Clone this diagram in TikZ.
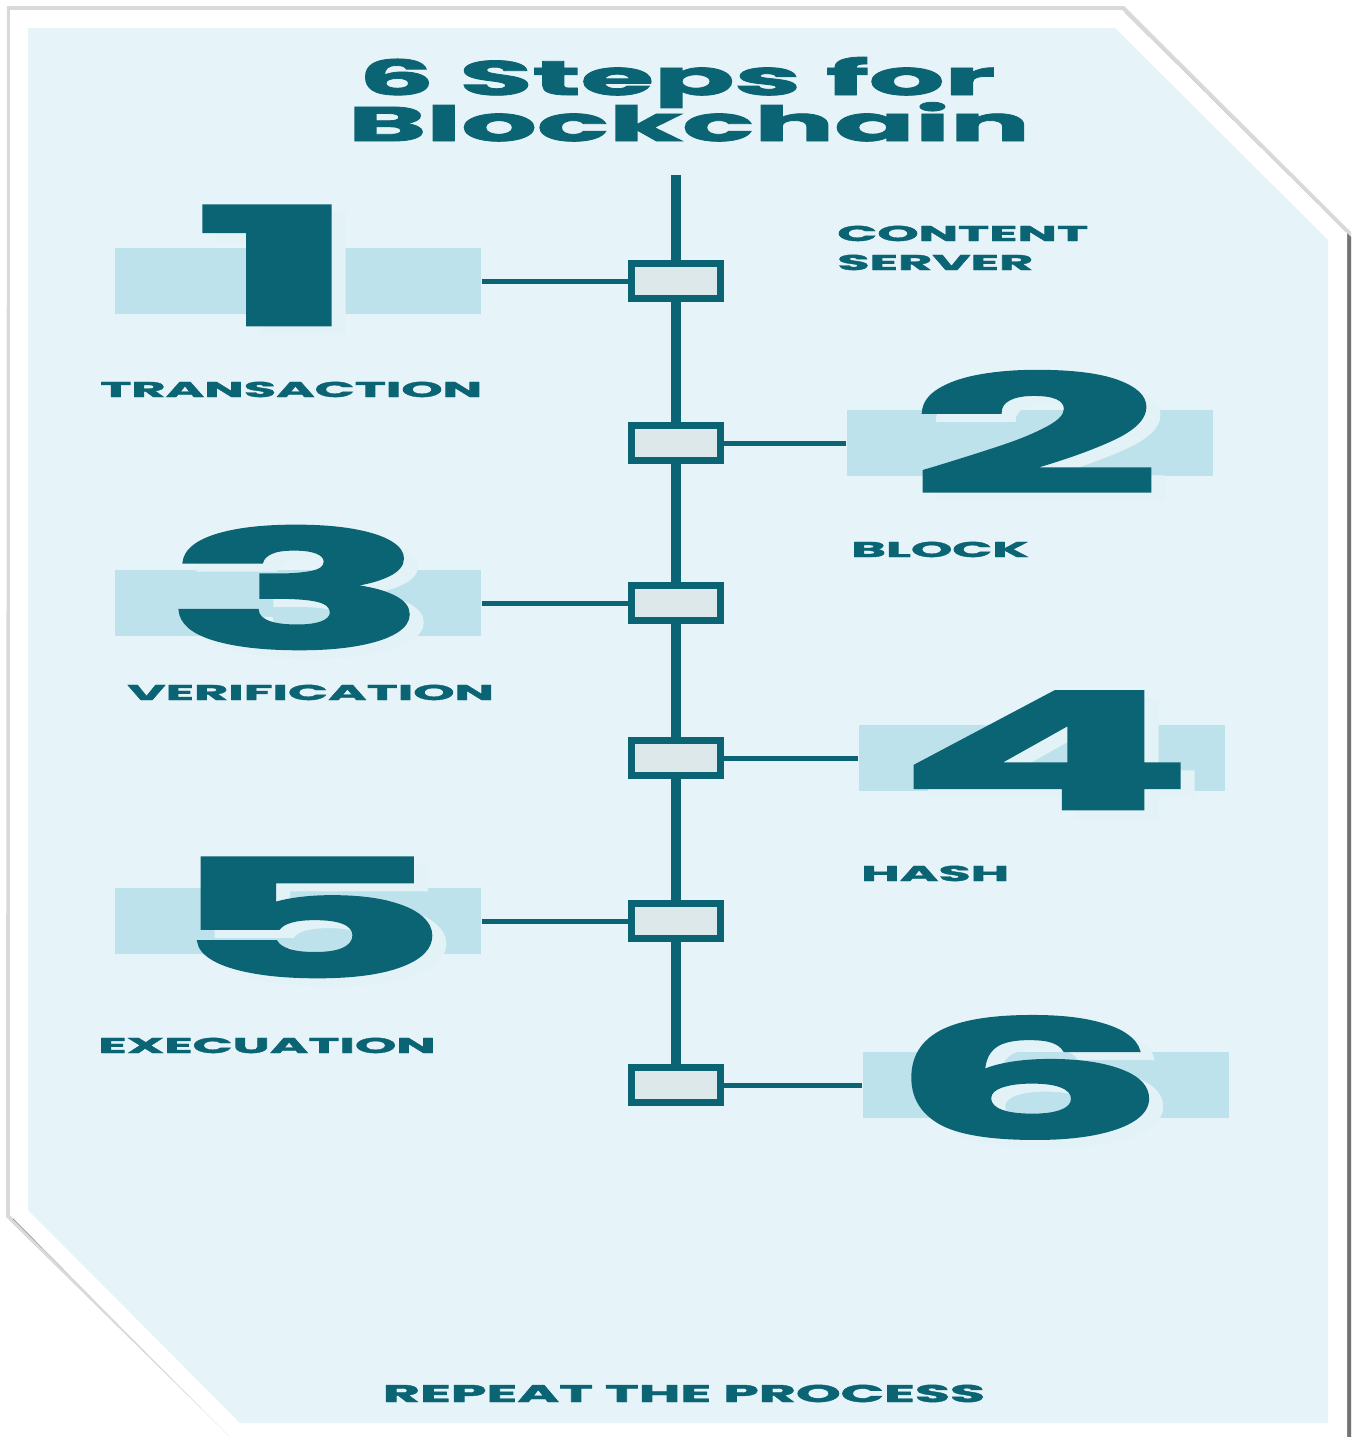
\documentclass[tikz,border=0pt]{standalone}
\usepackage{fontspec}
\setmainfont{Poppins}[BoldFeatures={FakeBold=1.6}]
\usepackage{xcolor}
\usepackage{graphicx}
\usepackage{tikz}

\definecolor{stepteal}{HTML}{0B6473}
\definecolor{pageblue}{HTML}{E6F4F9}
\definecolor{bandblue}{HTML}{BDE2EB}
\definecolor{boxfill}{HTML}{DCE8EA}
\definecolor{ghostblue}{HTML}{E2F2F6}

% big number with a pale copy set a little to the lower right
\newcommand{\ghostdigit}[1]{\scalebox{2.7}[1]{\rlap{\hspace{0.104cm}\raisebox{-0.16cm}{\color{ghostblue}#1}}#1}}

\tikzset{
  band/.style={fill=bandblue, minimum width=7.34cm, minimum height=1.32cm, inner sep=0pt},
  chainbox/.style={draw=stepteal, fill=boxfill, line width=0.14cm, minimum width=1.78cm, minimum height=0.7cm, inner sep=0pt},
  digit/.style={text=stepteal, font=\bfseries\fontsize{93}{93}\selectfont, inner sep=0pt, anchor=base},
  steplabel/.style={text=stepteal, font=\bfseries\fontsize{12.2}{14}\selectfont, inner sep=0pt, anchor=base west},
  titletext/.style={text=stepteal, font=\bfseries\fontsize{27.6}{30}\selectfont, inner sep=0pt, anchor=base},
  link/.style={stepteal, line width=0.1cm},
  spine/.style={stepteal, line width=0.2cm},
}

\begin{document}
\begin{tikzpicture}[x=0.02cm, y=-0.02cm]
    \useasboundingbox (0,0) rectangle (1358,1437);
    \fill[white] (0,0) rectangle (1358,1437);

    % Frame with cut corners
    \fill[gray!30] (7,6) -- (1124,6) -- (1351,232) -- (1351,1437) -- (230,1437) -- (6,1217) -- cycle;
    \fill[black!55] (13,13) -- (1125,13) -- (1351,237) -- (1351,1437) -- (233,1437) -- (13,1219) -- cycle;
    \fill[white] (10,10) -- (1122,10) -- (1347,233) -- (1347,1437) -- (230,1437) -- (10,1215) -- cycle;
    \fill[pageblue] (28,28) -- (1115,28) -- (1328,240) -- (1328,1423) -- (240,1423) -- (28,1210) -- cycle;

    % Title
    \node[titletext] (title1) at (677,95) {\scalebox{2.45}[1]{6 Steps for}};
    \node[titletext] (title2) at (689,141) {\scalebox{2.45}[1]{Blockchain}};

    % Bands behind the numbers
    \node[band] (b1) at (298,281) {};
    \node[band] (b2) at (1030,443) {};
    \node[band] (b3) at (298,603) {};
    \node[band] (b4) at (1042,758) {};
    \node[band] (b5) at (298,921) {};
    \node[band] (b6) at (1046,1085) {};

    % Numbers
    \node[digit] (n1) at (277,325) {\ghostdigit{1}};
    \node[digit] (n2) at (1035,493) {\ghostdigit{2}};
    \node[digit] (n3) at (297,648) {\ghostdigit{3}};
    \node[digit] (n4) at (1045,809) {\ghostdigit{4}};
    \node[digit] (n5) at (307,977) {\ghostdigit{5}};
    \node[digit] (n6) at (1028,1138) {\ghostdigit{6}};

    % Chain of blocks
    \coordinate (top) at (676,175);
    \node[chainbox] (s1) at (676,281) {};
    \node[chainbox] (s2) at (676,443) {};
    \node[chainbox] (s3) at (676,603) {};
    \node[chainbox] (s4) at (676,758) {};
    \node[chainbox] (s5) at (676,921) {};
    \node[chainbox] (s6) at (676,1085) {};
    \draw[spine] (top) -- (s1.north);
    \draw[spine] (s1.south) -- (s2.north);
    \draw[spine] (s2.south) -- (s3.north);
    \draw[spine] (s3.south) -- (s4.north);
    \draw[spine] (s4.south) -- (s5.north);
    \draw[spine] (s5.south) -- (s6.north);

    % Links from blocks to numbers
    \draw[link] (b1.east) -- (s1.west);
    \draw[link] (s2.east) -- (b2.west);
    \draw[link] (b3.east) -- (s3.west);
    \draw[link] (s4.east) -- (b4.west);
    \draw[link] (b5.east) -- (s5.west);
    \draw[link] (s6.east) -- (b6.west);

    % Step names
    \node[steplabel] (l0a) at (837,241) {\scalebox{2.45}[1]{CONTENT}};
    \node[steplabel] (l0b) at (837,270) {\scalebox{2.45}[1]{SERVER}};
    \node[steplabel] (l1) at (100,397) {\scalebox{2.45}[1]{TRANSACTION}};
    \node[steplabel] (l2) at (851,557) {\scalebox{2.45}[1]{BLOCK}};
    \node[steplabel] (l3) at (127,700) {\scalebox{2.45}[1]{VERIFICATION}};
    \node[steplabel] (l4) at (861,881) {\scalebox{2.45}[1]{HASH}};
    \node[steplabel] (l5) at (98,1053) {\scalebox{2.45}[1]{EXECUATION}};
    \node[titletext, font=\bfseries\fontsize{13.8}{16}\selectfont] (repeat) at (684,1402) {\scalebox{2.35}[1]{REPEAT THE PROCESS}};
\end{tikzpicture}
\end{document}
